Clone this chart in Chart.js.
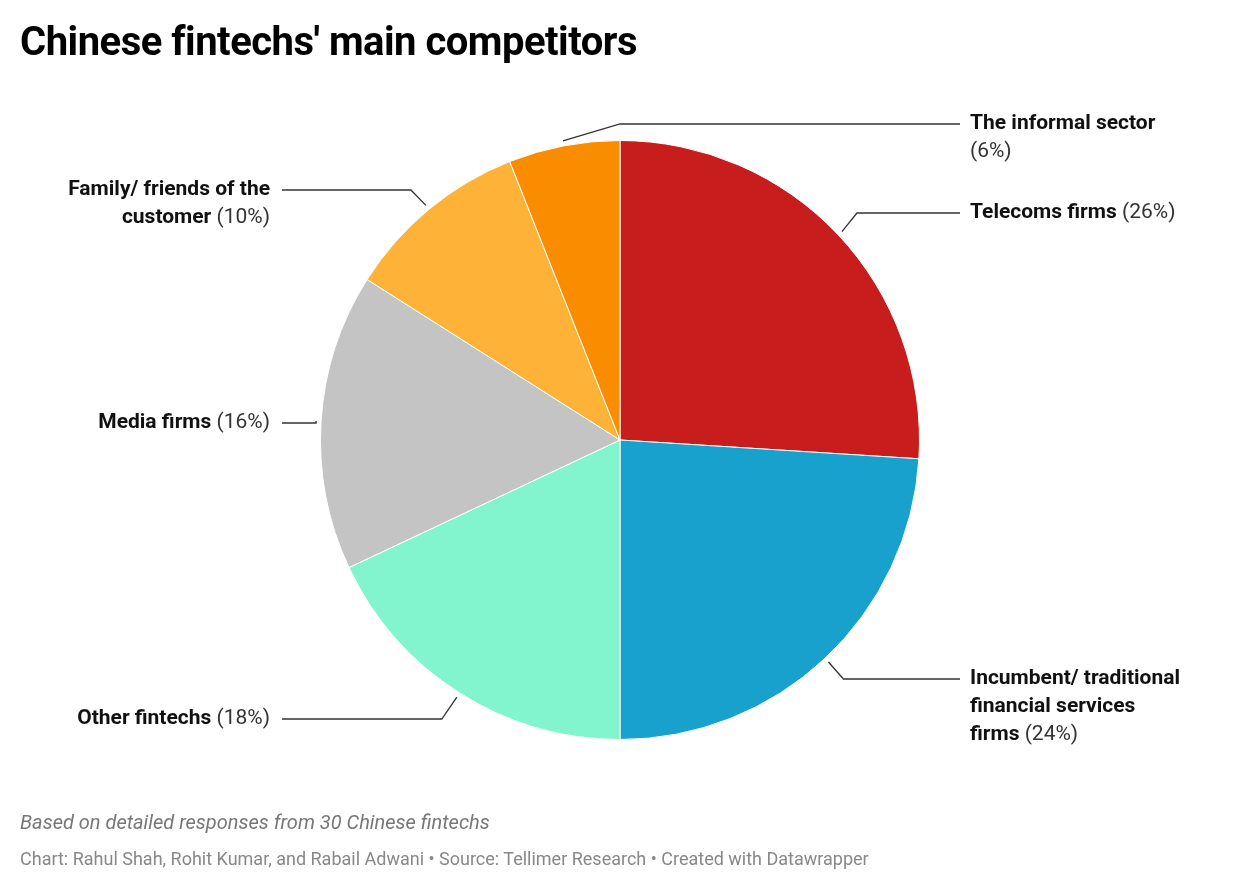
<!DOCTYPE html>
<html>
<head>
<meta charset="utf-8">
<script src="https://cdn.jsdelivr.net/npm/chart.js@4"></script>
<style>
  body { margin: 0; background: #fff; font-family: Roboto, sans-serif; }
  #wrap { position: relative; width: 1240px; height: 894px; }
  #title { position: absolute; left: 20px; top: 18px; font-size: 40px; font-weight: 700; color: #000; letter-spacing: -0.5px; }
  #note { position: absolute; left: 20px; top: 810px; font-size: 20px; font-style: italic; color: #777; }
  #credit { position: absolute; left: 20px; top: 848px; font-size: 18px; color: #888; }
  canvas { position: absolute; left: 0; top: 0; }
</style>
</head>
<body>
<div id="wrap">
  <canvas id="c" width="1240" height="894"></canvas>
  <div id="title">Chinese fintechs' main competitors</div>
  <div id="note">Based on detailed responses from 30 Chinese fintechs</div>
  <div id="credit">Chart: Rahul Shah, Rohit Kumar, and Rabail Adwani • Source: Tellimer Research • Created with Datawrapper</div>
</div>
<script>
const categories = ["Telecoms firms", "Incumbent/ traditional financial services firms", "Other fintechs", "Media firms", "Family/ friends of the customer", "The informal sector"];
const shares = [26, 24, 18, 16, 10, 6];
const colors = ["#c71e1d", "#18a1cd", "#82f5cf", "#c4c4c4", "#ffb238", "#fa8c00"];

// label layout: text lines (last line gets the percentage), side, first baseline row
const labelLines = [
    ["Telecoms firms"],
    ["Incumbent/ traditional", "financial services", "firms"],
    ["Other fintechs"],
    ["Media firms"],
    ["Family/ friends of the", "customer"],
    ["The informal sector", ""]
];
const labelY = [213, 679, 719, 423, 190, 124];

const labelPlugin = {
    id: "labels",
    afterDraw(chart) {
        const ctx = chart.ctx;
        const arcs = chart.getDatasetMeta(0).data;
        ctx.save();
        arcs.forEach((arc, i) => {
            const mid = (arc.startAngle + arc.endAngle) / 2;
            const r = arc.outerRadius + 5;
            const sx = arc.x + Math.cos(mid) * r;
            const sy = arc.y + Math.sin(mid) * r;
            const right = Math.cos(mid) >= 0 || i === 5;
            const ly = labelY[i];
            let ex, ey = ly;
            if (i === 5) ex = arc.x;
            else if (i === 3) ex = sx;
            else ex = sx + (right ? 15 : -15);
            const endX = right ? 960 : 282;
            ctx.strokeStyle = "#333";
            ctx.lineWidth = 1.3;
            ctx.beginPath();
            ctx.moveTo(sx, sy);
            ctx.lineTo(ex, ey);
            ctx.lineTo(endX, ey);
            ctx.stroke();

            const lines = labelLines[i];
            ctx.textBaseline = "middle";
            lines.forEach((txt, k) => {
                const y = ly + k * 28;
                const last = k === lines.length - 1;
                const pct = last ? (txt ? " " : "") + "(" + shares[i] + "%)" : "";
                ctx.font = "bold 21px Roboto";
                const wb = ctx.measureText(txt).width;
                ctx.font = "21px Roboto";
                const wp = ctx.measureText(pct).width;
                let x = right ? 970 : 270 - wb - wp;
                ctx.textAlign = "left";
                ctx.fillStyle = "#111";
                ctx.font = "bold 21px Roboto";
                ctx.fillText(txt, x, y);
                ctx.font = "21px Roboto";
                ctx.fillStyle = "#333";
                ctx.fillText(pct, x + wb, y);
            });
        });
        ctx.restore();
    }
};

new Chart(document.getElementById("c"), {
    type: "pie",
    data: {
        labels: categories,
        datasets: [{
            data: shares,
            backgroundColor: colors,
            borderColor: "#fff",
            borderWidth: 1
        }]
    },
    options: {
        responsive: false,
        animation: false,
        layout: { padding: { top: 140, bottom: 154 } },
        plugins: { legend: { display: false }, tooltip: { enabled: false } }
    },
    plugins: [labelPlugin]
});
</script>
</body>
</html>
